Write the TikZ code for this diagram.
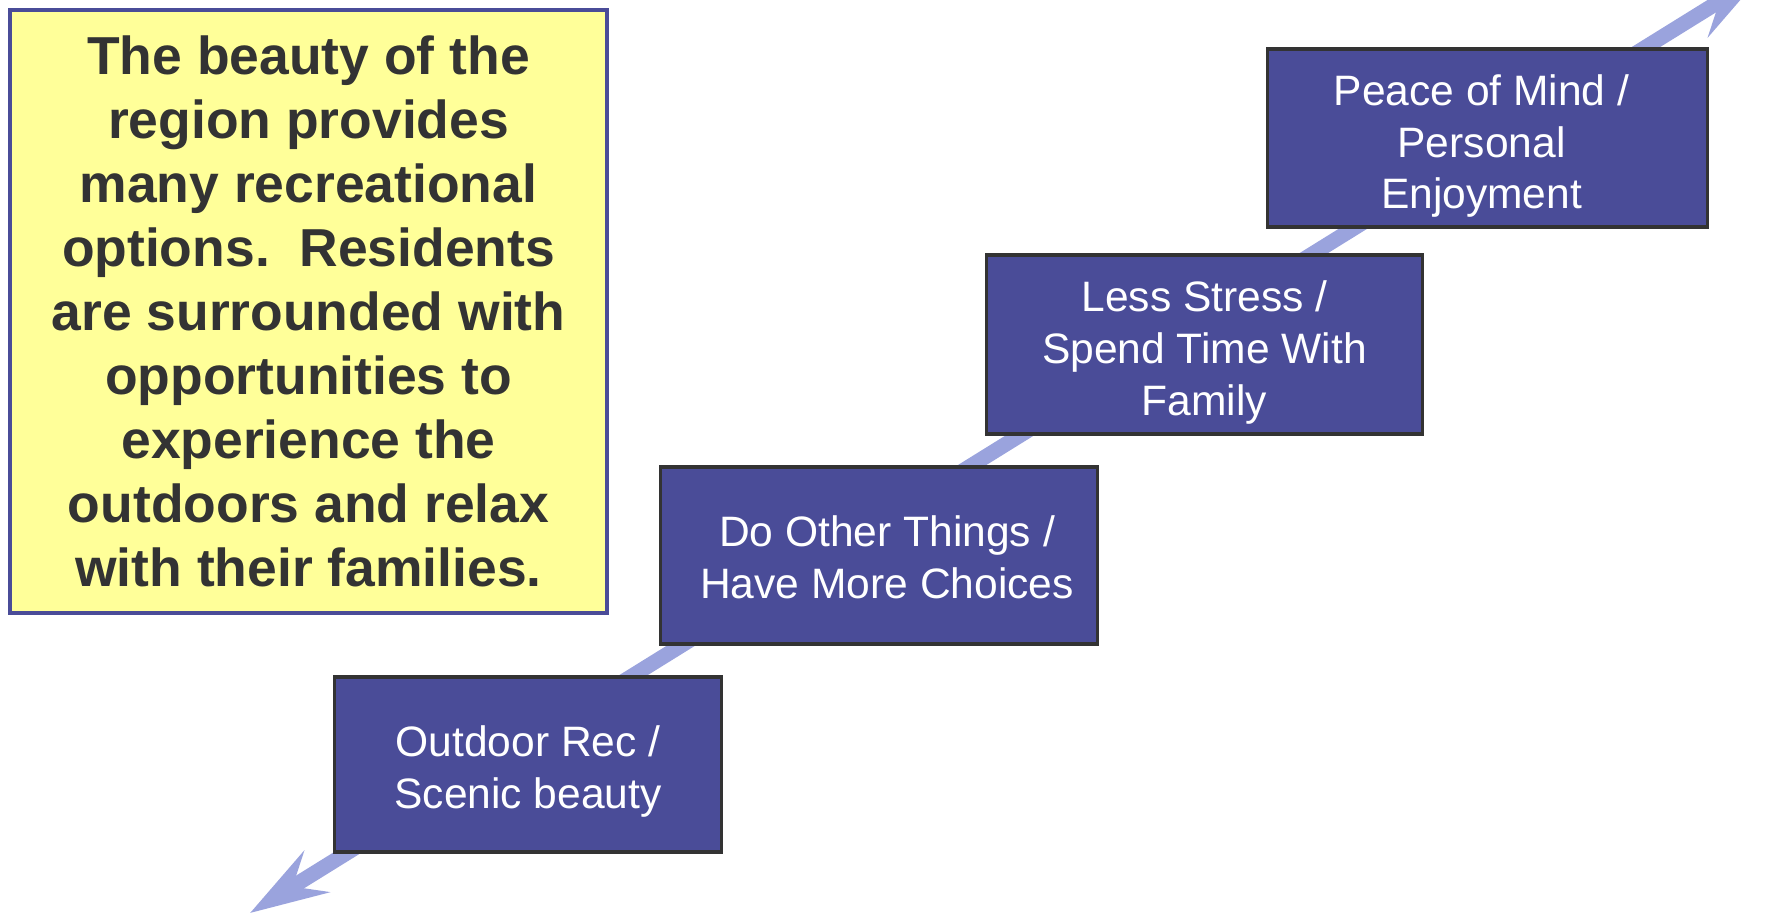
\documentclass[tikz,border=0pt]{standalone}
\usepackage{fontspec}
\setmainfont{Liberation Sans}
\usetikzlibrary{arrows.meta}
\definecolor{boxblue}{RGB}{74,76,152}
\definecolor{arrowblue}{RGB}{154,163,221}
\definecolor{note}{RGB}{255,255,153}
\definecolor{darktext}{RGB}{51,51,51}
\tikzset{
  stepbox/.style={draw=darktext, line width=0.9pt, fill=boxblue, inner sep=0pt},
  steptext/.style={text=white, align=center, inner sep=0pt,
    font=\fontsize{12.1pt}{14.7pt}\selectfont},
  notebox/.style={draw=boxblue, line width=1.2pt, fill=note, text=darktext,
    align=center, inner sep=0pt, font=\fontsize{15.2pt}{18.2pt}\selectfont\bfseries},
  flow/.style={draw=arrowblue, line width=0.15cm,
    arrows={Stealth[length=0.78cm, width=0.48cm, inset=0.28cm, arrowblue]-Stealth[length=0.78cm, width=0.48cm, inset=0.28cm, arrowblue]}}
}
\begin{document}
\begin{tikzpicture}[x=0.01cm, y=-0.01cm]
\useasboundingbox (0,0) rectangle (1774,914);
\clip (0,0) rectangle (1774,914);
\coordinate (lo) at (250,913);
\coordinate (hi) at (1762,-25);
\draw[flow] (lo) -- (hi);
\node[notebox, minimum width=5.97cm, minimum height=6.03cm] (note) at (308.5,311.5)
  {The beauty of the\\region provides\\many recreational\\options.\ \ Residents\\are surrounded with\\opportunities to\\experience the\\outdoors and relax\\with their families.};
\node[stepbox, minimum width=3.86cm, minimum height=1.75cm] (s1) at (528,764.5) {};
\node[stepbox, minimum width=4.36cm, minimum height=1.77cm] (s2) at (879,555.5) {};
\node[stepbox, minimum width=4.35cm, minimum height=1.79cm] (s3) at (1204.5,344.5) {};
\node[stepbox, minimum width=4.39cm, minimum height=1.78cm] (s4) at (1487.5,138) {};
\node[steptext] (t1) at ([yshift=-0.07cm]s1.center) {Outdoor Rec /\\Scenic beauty};
\node[steptext] (t2) at ([xshift=0.08cm,yshift=-0.02cm]s2.center) {Do Other Things /\\Have More Choices};
\node[steptext] (t3) at ([yshift=-0.08cm]s3.center) {Less Stress /\\Spend Time With\\Family};
\node[steptext] (t4) at ([xshift=-0.06cm,yshift=-0.08cm]s4.center) {Peace of Mind /\\Personal\\Enjoyment};
\end{tikzpicture}
\end{document}
